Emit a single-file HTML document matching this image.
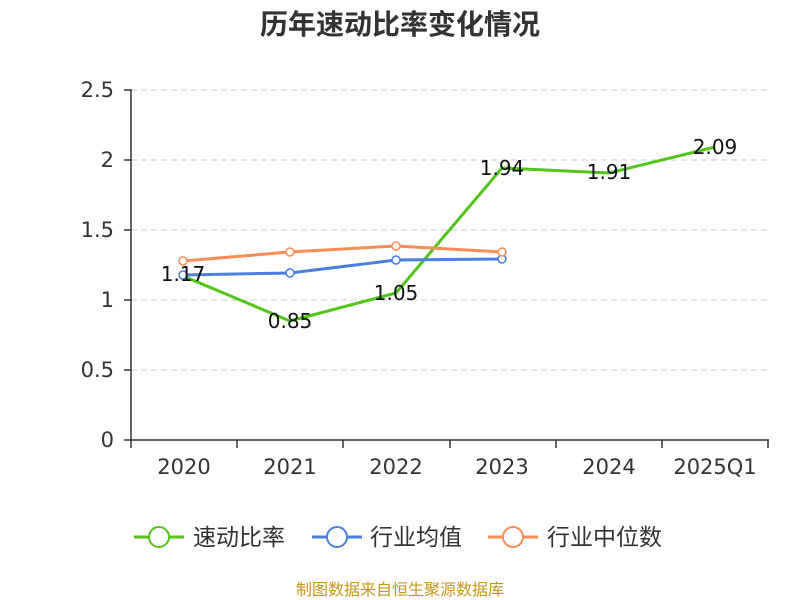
<!DOCTYPE html>
<html><head><meta charset="utf-8"><style>body{margin:0;background:#fff}svg{display:block}</style></head><body>
<svg width="800" height="600" xmlns="http://www.w3.org/2000/svg" font-family="DejaVu Sans, Noto Sans CJK SC, sans-serif">
<text x="400" y="34" text-anchor="middle" font-size="28" font-weight="bold" fill="#333" font-family="Noto Sans CJK SC, sans-serif">历年速动比率变化情况</text>
<g stroke="#ccc" stroke-dasharray="6,4" stroke-width="1">
<line x1="131" y1="90" x2="768" y2="90"/><line x1="131" y1="160" x2="768" y2="160"/><line x1="131" y1="230" x2="768" y2="230"/><line x1="131" y1="300" x2="768" y2="300"/><line x1="131" y1="370" x2="768" y2="370"/>
</g>
<g stroke="#333" stroke-width="1.5">
<line x1="131" y1="89" x2="131" y2="440"/><line x1="124" y1="90" x2="131" y2="90"/><line x1="124" y1="160" x2="131" y2="160"/><line x1="124" y1="230" x2="131" y2="230"/><line x1="124" y1="300" x2="131" y2="300"/><line x1="124" y1="370" x2="131" y2="370"/><line x1="124" y1="440" x2="131" y2="440"/>
<line x1="131" y1="440" x2="769" y2="440"/>
<line x1="131" y1="440" x2="131" y2="448"/><line x1="237" y1="440" x2="237" y2="448"/><line x1="343" y1="440" x2="343" y2="448"/><line x1="450" y1="440" x2="450" y2="448"/><line x1="556" y1="440" x2="556" y2="448"/><line x1="662" y1="440" x2="662" y2="448"/><line x1="768" y1="440" x2="768" y2="448"/>
</g>
<g font-size="21" fill="#333" text-anchor="end">
<text x="114" y="97">2.5</text><text x="114" y="167">2</text><text x="114" y="237">1.5</text><text x="114" y="307">1</text><text x="114" y="377">0.5</text><text x="114" y="447">0</text>
</g>
<g font-size="21" fill="#333" text-anchor="middle">
<text x="184" y="474">2020</text><text x="290" y="474">2021</text><text x="396" y="474">2022</text><text x="502" y="474">2023</text><text x="609" y="474">2024</text><text x="715" y="474">2025Q1</text>
</g>
<polyline points="183,276 290,321 396,293 502,168 609,173 715,147" fill="none" stroke="#52c41a" stroke-width="3"/>
<polyline points="183,275 290,273 396,260 502,259" fill="none" stroke="#4a7fe0" stroke-width="3"/>
<polyline points="183,261 290,252 396,246 502,252" fill="none" stroke="#fa8c58" stroke-width="3"/>
<g fill="#fff" stroke-width="1.5">
<circle cx="183" cy="275" r="4" stroke="#4a7fe0"/><circle cx="290" cy="273" r="4" stroke="#4a7fe0"/><circle cx="396" cy="260" r="4" stroke="#4a7fe0"/><circle cx="502" cy="259" r="4" stroke="#4a7fe0"/>
<circle cx="183" cy="261" r="4" stroke="#fa8c58"/><circle cx="290" cy="252" r="4" stroke="#fa8c58"/><circle cx="396" cy="246" r="4" stroke="#fa8c58"/><circle cx="502" cy="252" r="4" stroke="#fa8c58"/>
</g>
<g font-size="20" fill="#111" text-anchor="middle">
<text x="183" y="281">1.17</text><text x="290" y="328">0.85</text><text x="396" y="300">1.05</text><text x="502" y="175">1.94</text><text x="609" y="179">1.91</text><text x="715" y="154">2.09</text>
</g>
<g font-size="23" fill="#333" font-family="Noto Sans CJK SC, sans-serif">
<line x1="134" y1="537" x2="184" y2="537" stroke="#52c41a" stroke-width="3"/><circle cx="159" cy="537" r="10" fill="#fff" stroke="#52c41a" stroke-width="2"/><text x="193" y="545">速动比率</text>
<line x1="312" y1="537" x2="362" y2="537" stroke="#4a7fe0" stroke-width="3"/><circle cx="337" cy="537" r="10" fill="#fff" stroke="#4a7fe0" stroke-width="2"/><text x="370" y="545">行业均值</text>
<line x1="488" y1="537" x2="538" y2="537" stroke="#fa8c58" stroke-width="3"/><circle cx="513" cy="537" r="10" fill="#fff" stroke="#fa8c58" stroke-width="2"/><text x="547" y="545">行业中位数</text>
</g>
<text x="400" y="595" text-anchor="middle" font-size="16" fill="#c8961e" font-family="Noto Sans CJK SC, sans-serif">制图数据来自恒生聚源数据库</text>
</svg>
</body></html>
